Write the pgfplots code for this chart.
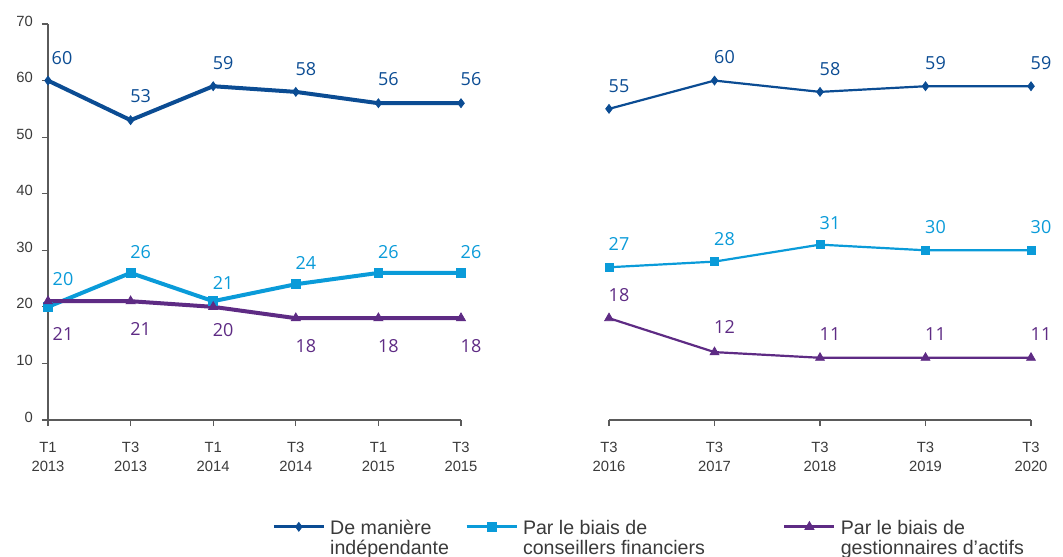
\documentclass[border=0pt]{standalone}
\usepackage{fontspec}
\setmainfont{Liberation Sans}
\newfontfamily\lblfont{Open Sans}
\usepackage{pgfplots}
\usepackage{pgfplotstable}
\pgfplotsset{compat=1.18}

\definecolor{cDark}{HTML}{0B4C93}
\definecolor{cLight}{HTML}{0A9BD9}
\definecolor{cPurp}{HTML}{5E2B84}
\definecolor{axgray}{HTML}{5A5A5A}
\definecolor{tickink}{HTML}{3A3A3A}

% T1 2013 -> T3 2015
\pgfplotstableread{
x indep conseil gest
0 60 20 21
1 53 26 21
2 59 21 20
3 58 24 18
4 56 26 18
5 56 26 18
}\leftdata
% T3 2016 -> T3 2020
\pgfplotstableread{
x indep conseil gest
0 55 27 18
1 60 28 12
2 58 31 11
3 59 30 11
4 59 30 11
}\rightdata

\pgfplotsset{
  common/.style={
    scale only axis, height=198pt,
    ymin=0, ymax=70, clip=false,
    /pgf/number format/assume math mode=true,
    axis line style={axgray, line width=0.6pt},
    tick style={axgray, line width=0.6pt},
    tick align=outside, major tick length=3pt,
    xticklabel style={align=center, font=\fontsize{7.4}{9.5}\selectfont, text=tickink, yshift=-4.5pt},
    yticklabel style={font=\fontsize{7.4}{9}\selectfont, text=tickink, yshift=1.5pt, xshift=-1pt},
  },
}
\tikzset{lab/.style={font=\lblfont\fontsize{9}{10}\selectfont, inner sep=0pt, anchor=center, xshift=5pt}}

\begin{document}
\begin{tikzpicture}
\useasboundingbox (-24pt,-68pt) rectangle (507.5pt,210pt);

\begin{axis}[common,
  at={(0pt,0pt)}, anchor=south west, width=206.5pt,
  xmin=0, xmax=5,
  axis x line*=bottom, axis y line*=left,
  xtick={0,...,5},
  xticklabels={{T1\\2013},{T3\\2013},{T1\\2014},{T3\\2014},{T1\\2015},{T3\\2015}},
  ytick={0,10,...,70},
  legend columns=3,
  legend style={at={(axis description cs:0.5424,-0.2525)}, anchor=north west,
    draw=none, fill=none, inner sep=0pt, column sep=0pt,
    font=\fontsize{9.8}{10}\selectfont, text=tickink,
    nodes={inner sep=0pt, anchor=base west}, cells={anchor=base west}},
  legend image code/.code={\draw[#1, line width=1.4pt, mark repeat=2, mark phase=2]
    plot coordinates {(0pt,4pt) (12.5pt,4pt) (25pt,4pt)};},
]
\addplot[cDark, line width=2pt, mark=diamond*, mark size=2.2pt, mark options={solid, line width=0.4pt}]
  table[x=x, y=indep] {\leftdata};
\addlegendentry{\hspace*{2.5pt}\parbox[t]{67.5pt}{De manière\\indépendante}}
\addplot[cLight, line width=2pt, mark=square*, mark size=2.2pt, mark options={solid, line width=0.4pt}]
  table[x=x, y=conseil] {\leftdata};
\addlegendentry{\hspace*{2.5pt}\parbox[t]{130pt}{Par le biais de\\conseillers financiers}}
\addplot[cPurp, line width=2pt, mark=triangle*, mark size=2.6pt, mark options={solid, line width=0.4pt}]
  table[x=x, y=gest] {\leftdata};
\addlegendentry{\hspace*{2.5pt}\parbox[t]{100pt}{Par le biais de\\gestionnaires d’actifs}}

% data labels, left block
\node[lab, text=cDark, yshift=11.5pt, xshift=2pt] at (axis cs:0,60) {60};
\node[lab, text=cDark, yshift=12pt]   at (axis cs:1,53) {53};
\node[lab, text=cDark, yshift=11.5pt] at (axis cs:2,59) {59};
\node[lab, text=cDark, yshift=11.5pt] at (axis cs:3,58) {58};
\node[lab, text=cDark, yshift=12pt]   at (axis cs:4,56) {56};
\node[lab, text=cDark, yshift=12pt]   at (axis cs:5,56) {56};
\node[lab, text=cLight, yshift=14pt, xshift=2.5pt] at (axis cs:0,20) {20};
\node[lab, text=cLight, yshift=10.5pt] at (axis cs:1,26) {26};
\node[lab, text=cLight, yshift=9pt]    at (axis cs:2,21) {21};
\node[lab, text=cLight, yshift=10.5pt] at (axis cs:3,24) {24};
\node[lab, text=cLight, yshift=10.5pt] at (axis cs:4,26) {26};
\node[lab, text=cLight, yshift=10.5pt] at (axis cs:5,26) {26};
\node[lab, text=cPurp, yshift=-16.5pt, xshift=2.5pt] at (axis cs:0,21) {21};
\node[lab, text=cPurp, yshift=-14pt]   at (axis cs:1,21) {21};
\node[lab, text=cPurp, yshift=-11.5pt] at (axis cs:2,20) {20};
\node[lab, text=cPurp, yshift=-14pt]   at (axis cs:3,18) {18};
\node[lab, text=cPurp, yshift=-14pt]   at (axis cs:4,18) {18};
\node[lab, text=cPurp, yshift=-14pt]   at (axis cs:5,18) {18};
\end{axis}

\begin{axis}[common,
  at={(280.5pt,0pt)}, anchor=south west, width=211pt,
  xmin=0, xmax=4,
  axis x line*=bottom, axis y line=none,
  xtick={0,...,4},
  xticklabels={{T3\\2016},{T3\\2017},{T3\\2018},{T3\\2019},{T3\\2020}},
  ytick=\empty,
]
\addplot[cDark, line width=1.1pt, mark=diamond*, mark size=2.2pt, mark options={solid, line width=0.4pt}]
  table[x=x, y=indep] {\rightdata};
\addplot[cLight, line width=1.1pt, mark=square*, mark size=2pt, mark options={solid, line width=0.4pt}]
  table[x=x, y=conseil] {\rightdata};
\addplot[cPurp, line width=1.1pt, mark=triangle*, mark size=2.5pt, mark options={solid, line width=0.4pt}]
  table[x=x, y=gest] {\rightdata};

\node[lab, text=cDark, yshift=11.5pt] at (axis cs:0,55) {55};
\node[lab, text=cDark, yshift=12pt]   at (axis cs:1,60) {60};
\node[lab, text=cDark, yshift=11.5pt] at (axis cs:2,58) {58};
\node[lab, text=cDark, yshift=11.5pt] at (axis cs:3,59) {59};
\node[lab, text=cDark, yshift=11.5pt] at (axis cs:4,59) {59};
\node[lab, text=cLight, yshift=11.5pt] at (axis cs:0,27) {27};
\node[lab, text=cLight, yshift=11.5pt] at (axis cs:1,28) {28};
\node[lab, text=cLight, yshift=11pt]   at (axis cs:2,31) {31};
\node[lab, text=cLight, yshift=11.5pt] at (axis cs:3,30) {30};
\node[lab, text=cLight, yshift=11.5pt] at (axis cs:4,30) {30};
\node[lab, text=cPurp, yshift=11.5pt] at (axis cs:0,18) {18};
\node[lab, text=cPurp, yshift=12.5pt] at (axis cs:1,12) {12};
\node[lab, text=cPurp, yshift=12pt]   at (axis cs:2,11) {11};
\node[lab, text=cPurp, yshift=12pt]   at (axis cs:3,11) {11};
\node[lab, text=cPurp, yshift=12pt]   at (axis cs:4,11) {11};
\end{axis}
\end{tikzpicture}
\end{document}
